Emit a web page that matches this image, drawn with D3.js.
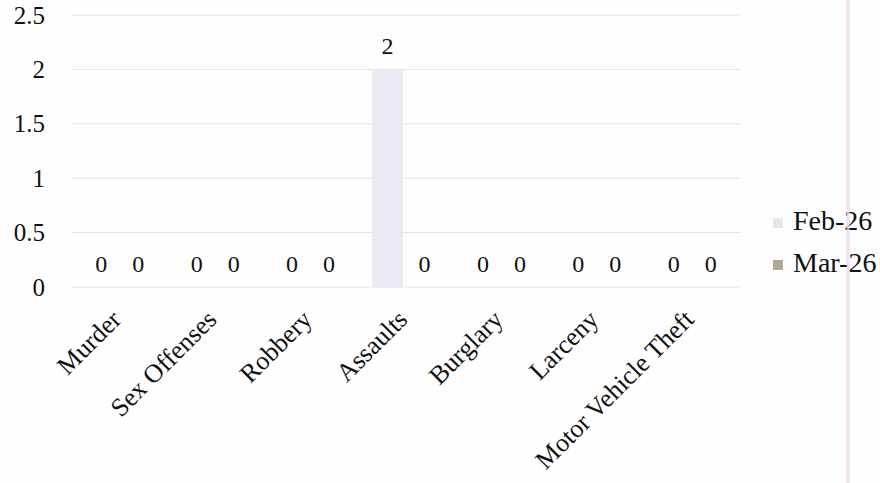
<!DOCTYPE html>
<html>
<head>
<meta charset="utf-8">
<script src="https://cdn.jsdelivr.net/npm/d3@7"></script>
<style>
  html, body { margin: 0; padding: 0; background: #fefefe; }
  svg { display: block; }
  text { font-family: "Liberation Serif", "Times New Roman", serif; }
</style>
</head>
<body>
<div class="chart"></div>
<script>
// 데이터
const categories = ['Murder', 'Sex Offenses', 'Robbery', 'Assaults', 'Burglary', 'Larceny', 'Motor Vehicle Theft'];
const seriesNames = ['Feb-26', 'Mar-26'];
const feb26 = [0, 0, 0, 2, 0, 0, 0];
const mar26 = [0, 0, 0, 0, 0, 0, 0];
const yTicks = [0, 0.5, 1, 1.5, 2, 2.5];
const seriesColors = ['#ebeaf2', '#aeab8e'];
const legendColors = ['#e6e6ea', '#aeab8e'];

const W = 880, H = 483;
const FontFamily = '"Liberation Serif", "Times New Roman", serif';

const rows = categories.map((c, i) => ({cat: c, values: [feb26[i], mar26[i]]}));

/******************** 스케일 ********************/
const x0 = d3.scaleBand(categories, [72, 740]);
const bw = x0.bandwidth();
// 막대 두 개: 중심 간격 37px, 폭 31px
const x1 = d3.scaleBand(seriesNames, [bw / 2 - 40, bw / 2 + 40]).padding(0.162);
const y = d3.scaleLinear([0, 2.5], [287, 15]);

const svg = d3.select('.chart')
  .append('svg')
  .attr('width', W)
  .attr('height', H);

/******************** 눈금선 ********************/
svg.append('g')
  .selectAll('line')
  .data(yTicks)
  .join('line')
    .attr('x1', 72)
    .attr('x2', 740)
    .attr('y1', d => y(d))
    .attr('y2', d => y(d))
    .attr('stroke', '#e2e2e2')
    .attr('stroke-width', 1);

// y축 레이블
const yAxis = d3.axisLeft(y).tickValues(yTicks).tickSize(0).tickPadding(0).tickFormat(d3.format('~g'));
svg.append('g')
    .attr('transform', 'translate(45, 0)')
  .call(yAxis)
  .call(g => g.select('.domain').remove())
  .selectAll('text')
    .attr('font-family', FontFamily)
    .attr('font-size', '25px')
    .attr('fill', '#111');

/******************** 막대 ********************/
const groups = svg.append('g')
  .selectAll('g')
  .data(rows)
  .join('g')
    .attr('transform', d => `translate(${x0(d.cat)}, 0)`);

groups.selectAll('rect')
  .data(d => d.values.map((v, i) => ({s: seriesNames[i], v, i})))
  .join('rect')
    .attr('x', d => x1(d.s))
    .attr('y', d => y(d.v))
    .attr('width', x1.bandwidth())
    .attr('height', d => y(0) - y(d.v))
    .attr('fill', d => seriesColors[d.i]);

// 데이터 레이블
groups.selectAll('text')
  .data(d => d.values.map((v, i) => ({s: seriesNames[i], v, i})))
  .join('text')
    .attr('x', d => x1(d.s) + x1.bandwidth() / 2)
    .attr('y', d => y(d.v) - 15)
    .attr('text-anchor', 'middle')
    .attr('font-family', FontFamily)
    .attr('font-size', '24px')
    .attr('fill', '#111')
    .text(d => d.v);

/******************** x축 레이블 ********************/
svg.append('g')
  .selectAll('text')
  .data(categories)
  .join('text')
    .attr('transform', d => `translate(${x0(d) + bw / 2 + 3}, 321) rotate(-45)`)
    .attr('text-anchor', 'end')
    .attr('font-family', FontFamily)
    .attr('font-size', '26px')
    .attr('fill', '#111')
    .text(d => d);

/******************** 범례 ********************/
const legend = svg.append('g')
  .selectAll('g')
  .data(seriesNames)
  .join('g')
    .attr('transform', (d, i) => `translate(773, ${218 + i * 42})`);

legend.append('rect')
  .attr('width', 10)
  .attr('height', 10)
  .attr('fill', (d, i) => legendColors[i]);

legend.append('text')
  .attr('x', 20)
  .attr('y', 12)
  .attr('font-family', FontFamily)
  .attr('font-size', '28px')
  .attr('fill', '#111')
  .text(d => d);

// 오른쪽 분홍 세로선
svg.append('line')
  .attr('x1', 848).attr('x2', 848)
  .attr('y1', 0).attr('y2', H)
  .attr('stroke', '#f2d4f2')
  .attr('stroke-width', 3)
  .attr('opacity', 0.8);
</script>
</body>
</html>
